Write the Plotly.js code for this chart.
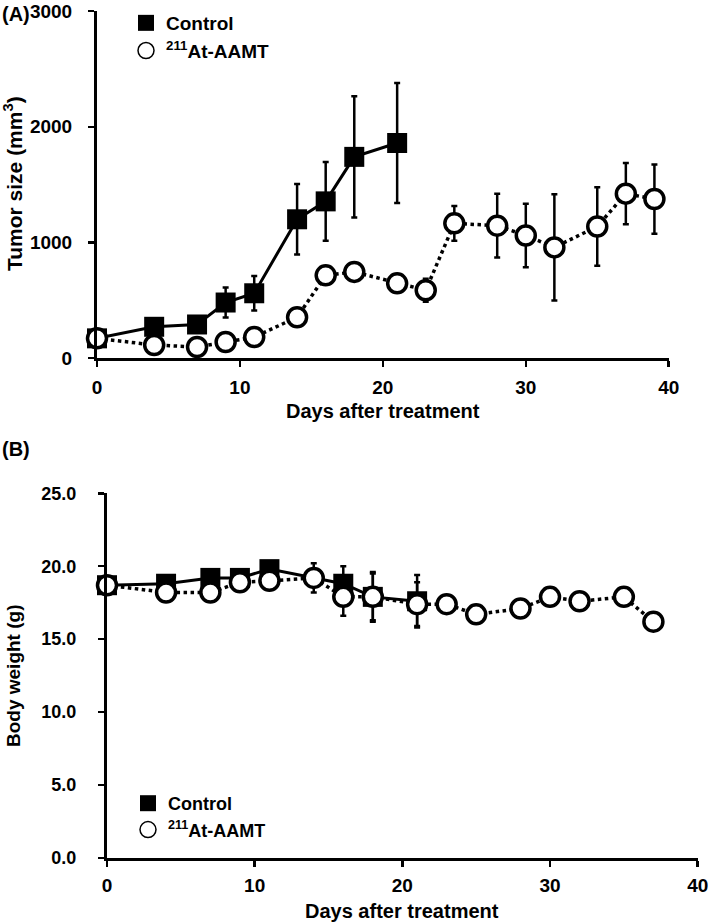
<!DOCTYPE html>
<html>
<head>
<meta charset="utf-8">
<script src="https://cdn.plot.ly/plotly-3.0.1.min.js"></script>
<style>html,body{margin:0;padding:0;background:#fff;}#chart{width:709px;height:924px;}</style>
</head>
<body>
<div id="chart"></div>
<script>
// ---- Panel A: tumor size (mm3) ----
const controlDaysA = [0, 4, 7, 9, 11, 14, 16, 18, 21];
const controlTumor = [170, 270, 290, 480, 560, 1200, 1355, 1740, 1860];
const controlTumorErr = [20, 40, 40, 130, 150, 305, 340, 525, 520];

const treatedDaysA = [0, 4, 7, 9, 11, 14, 16, 18, 21, 23, 25, 28, 30, 32, 35, 37, 39];
const treatedTumor = [170, 112, 95, 138, 181, 353, 715, 745, 646, 586, 1165, 1145, 1060, 957, 1138, 1422, 1375];
const treatedTumorErr = [20, 20, 20, 30, 30, 40, 60, 50, 70, 100, 150, 275, 275, 460, 340, 265, 300];

// ---- Panel B: body weight (g) ----
const controlDaysB = [0, 4, 7, 9, 11, 16, 18, 21];
const controlWeight = [18.7, 18.8, 19.2, 19.2, 19.8, 18.8, 17.9, 17.6];
const controlWeightErr = [0.4, 0.4, 0.5, 0.5, 0.5, 1.2, 1.7, 1.8];

const treatedDaysB = [0, 4, 7, 9, 11, 14, 16, 18, 21, 23, 25, 28, 30, 32, 35, 37];
const treatedWeight = [18.7, 18.2, 18.2, 18.9, 19.0, 19.2, 17.9, 17.9, 17.4, 17.4, 16.7, 17.1, 17.9, 17.6, 17.9, 16.2];
const treatedWeightErr = [0.3, 0.3, 0.3, 0.4, 0.4, 1.0, 1.3, 1.6, 1.5, 0.3, 0.2, 0.3, 0.3, 0.3, 0.3, 0.3];

const seriesNames = ['Control', '<sup>211</sup>At-AAMT'];
const xTicks = [0, 10, 20, 30, 40];
const yTicksA = [0, 1000, 2000, 3000];
const yTicksB = [0, 5, 10, 15, 20, 25];

const W = 709, H = 924;
const px = v => v / W;
const py = v => 1 - v / H;
const FONT = 'Liberation Sans, Arial, sans-serif';

const ctrlMarker = {symbol: 'square', size: 20, color: '#000', line: {color: '#000', width: 0}};
const trtMarker = {symbol: 'circle', size: 19, color: '#fff', line: {color: '#000', width: 3.5}};
const errStyle = {type: 'data', visible: true, color: '#000', thickness: 2.5, width: 3};

const traces = [
  {x: controlDaysA, y: controlTumor, xaxis: 'x', yaxis: 'y', mode: 'lines+markers', showlegend: false,
   line: {color: '#000', width: 3}, marker: ctrlMarker, cliponaxis: false,
   error_y: Object.assign({array: controlTumorErr}, errStyle)},
  {x: treatedDaysA, y: treatedTumor, xaxis: 'x', yaxis: 'y', mode: 'lines+markers', showlegend: false,
   line: {color: '#000', width: 3.5, dash: 'dot'}, marker: trtMarker, cliponaxis: false,
   error_y: Object.assign({array: treatedTumorErr}, errStyle)},
  {x: controlDaysB, y: controlWeight, xaxis: 'x2', yaxis: 'y2', mode: 'lines+markers', showlegend: false,
   line: {color: '#000', width: 3}, marker: ctrlMarker, cliponaxis: false,
   error_y: Object.assign({array: controlWeightErr}, errStyle)},
  {x: treatedDaysB, y: treatedWeight, xaxis: 'x2', yaxis: 'y2', mode: 'lines+markers', showlegend: false,
   line: {color: '#000', width: 3.5, dash: 'dot'}, marker: trtMarker, cliponaxis: false,
   error_y: Object.assign({array: treatedWeightErr}, errStyle)},
  // legend entries
  {x: [null], y: [null], xaxis: 'x', yaxis: 'y', mode: 'markers', name: seriesNames[0], legend: 'legend',
   marker: {symbol: 'square', size: 16, color: '#000'}},
  {x: [null], y: [null], xaxis: 'x', yaxis: 'y', mode: 'markers', name: seriesNames[1], legend: 'legend',
   marker: {symbol: 'circle', size: 16, color: '#fff', line: {color: '#000', width: 1.5}}},
  {x: [null], y: [null], xaxis: 'x2', yaxis: 'y2', mode: 'markers', name: seriesNames[0], legend: 'legend2',
   marker: {symbol: 'square', size: 16, color: '#000'}},
  {x: [null], y: [null], xaxis: 'x2', yaxis: 'y2', mode: 'markers', name: seriesNames[1], legend: 'legend2',
   marker: {symbol: 'circle', size: 16, color: '#fff', line: {color: '#000', width: 1.5}}}
];

const tickFont = {family: FONT, size: 19, color: '#000', weight: 'bold'};
const axisBase = {showgrid: false, zeroline: false, showline: true, linecolor: '#000', linewidth: 3,
  ticks: 'outside', ticklen: 6, tickwidth: 2.5, tickcolor: '#000', tickfont: tickFont, fixedrange: true,
  ticklabeloverflow: 'allow'};

const layout = {
  width: W, height: H, autosize: false,
  margin: {l: 0, r: 0, t: 0, b: 0},
  paper_bgcolor: '#fff', plot_bgcolor: 'rgba(0,0,0,0)',
  font: {family: FONT, color: '#000', weight: 'bold'},
  xaxis: Object.assign({}, axisBase, {domain: [px(97), px(669)], anchor: 'y', range: [0, 40.02],
    tickvals: xTicks, ticklabelstandoff: 4}),
  yaxis: Object.assign({}, axisBase, {domain: [py(358), py(11)], anchor: 'x', range: [0, 3002],
    tickvals: yTicksA, ticklabelstandoff: 12}),
  xaxis2: Object.assign({}, axisBase, {domain: [px(107), px(698)], anchor: 'y2', range: [0, 40.02],
    tickvals: xTicks, ticklabelstandoff: 2}),
  yaxis2: Object.assign({}, axisBase, {domain: [py(858), py(493)], anchor: 'x2', range: [0, 25.02],
    tickvals: yTicksB, tickformat: '.1f', ticklabelstandoff: 18, tickfont: Object.assign({}, tickFont, {size: 18})}),
  legend: {x: px(126), y: py(4), xanchor: 'left', yanchor: 'top', bgcolor: 'rgba(0,0,0,0)',
    font: {family: FONT, size: 19, color: '#000', weight: 'bold'}, tracegroupgap: 0},
  legend2: {x: px(128), y: py(785), xanchor: 'left', yanchor: 'top', bgcolor: 'rgba(0,0,0,0)',
    font: {family: FONT, size: 18, color: '#000', weight: 'bold'}, tracegroupgap: 0},
  annotations: [
    {text: '(A)', x: px(0), y: py(14), xref: 'paper', yref: 'paper', xanchor: 'left', yanchor: 'middle',
     showarrow: false, font: {family: FONT, size: 20, weight: 'bold'}},
    {text: '(B)', x: px(0), y: py(449), xref: 'paper', yref: 'paper', xanchor: 'left', yanchor: 'middle',
     showarrow: false, font: {family: FONT, size: 20, weight: 'bold'}},
    {text: 'Tumor size (mm<sup>3</sup>)', x: px(13), y: py(184), xref: 'paper', yref: 'paper', textangle: -90,
     xanchor: 'center', yanchor: 'middle', showarrow: false, font: {family: FONT, size: 21, weight: 'bold'}},
    {text: 'Days after treatment', x: px(383), y: py(411), xref: 'paper', yref: 'paper',
     xanchor: 'center', yanchor: 'middle', showarrow: false, font: {family: FONT, size: 20, weight: 'bold'}},
    {text: 'Body weight (g)', x: px(13), y: py(676), xref: 'paper', yref: 'paper', textangle: -90,
     xanchor: 'center', yanchor: 'middle', showarrow: false, font: {family: FONT, size: 19, weight: 'bold'}},
    {text: 'Days after treatment', x: px(402), y: py(911), xref: 'paper', yref: 'paper',
     xanchor: 'center', yanchor: 'middle', showarrow: false, font: {family: FONT, size: 20, weight: 'bold'}}
  ]
};

Plotly.newPlot('chart', traces, layout, {staticPlot: true, displayModeBar: false});
</script>
</body>
</html>
